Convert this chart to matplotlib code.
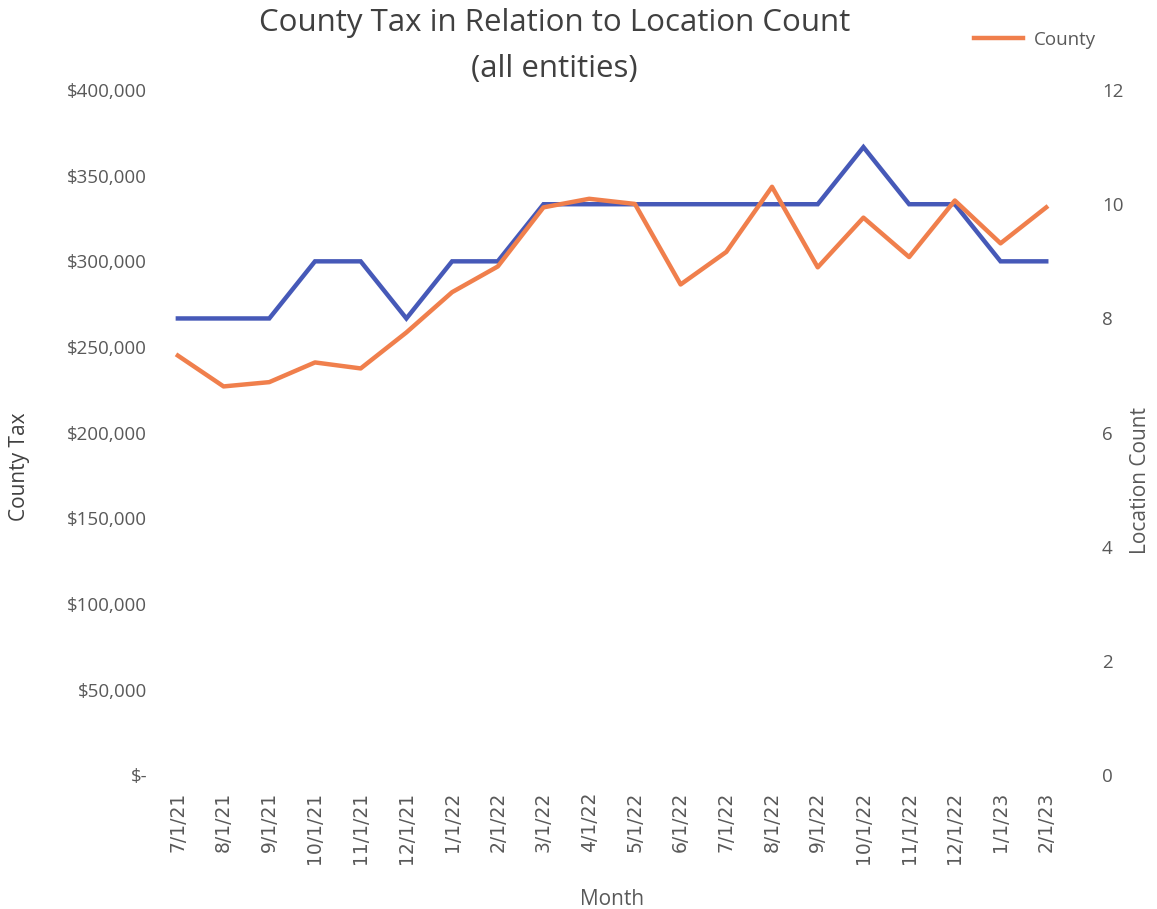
import matplotlib.pyplot as plt
from matplotlib.ticker import FuncFormatter

months = ["7/1/21", "8/1/21", "9/1/21", "10/1/21", "11/1/21", "12/1/21",
          "1/1/22", "2/1/22", "3/1/22", "4/1/22", "5/1/22", "6/1/22",
          "7/1/22", "8/1/22", "9/1/22", "10/1/22", "11/1/22", "12/1/22",
          "1/1/23", "2/1/23"]
county_tax = [245000, 227000, 229500, 241000, 237500, 258500,
              282000, 297000, 331500, 336500, 333500, 286500,
              305500, 343500, 296500, 325500, 302500, 335500,
              310500, 331500]
location_count = [8, 8, 8, 9, 9, 8, 9, 9, 10, 10, 10, 10,
                  10, 10, 10, 11, 10, 10, 9, 9]

plt.rcParams['font.family'] = ['Open Sans', 'DejaVu Sans']
gray = '#595959'

fig = plt.figure(figsize=(11.57, 9.09), dpi=100)
ax = fig.add_axes([0.132, 0.147, 0.794, 0.754])
ax2 = ax.twinx()

x = list(range(len(months)))
ax2.plot(x, location_count, color='#4659B8', lw=3.2, solid_joinstyle='miter')
ax.plot(x, county_tax, color='#F07F4C', lw=3.2, label='County')
ax.set_zorder(ax2.get_zorder() + 1)
ax.patch.set_visible(False)

ax.set_xlim(-0.55, len(months) - 0.45)
ax.set_ylim(0, 400000)
ax2.set_ylim(0, 12)
ax.set_yticks(range(0, 400001, 50000))
ax2.set_yticks(range(0, 13, 2))

def money(v, pos):
    return '$-' if v == 0 else '${:,.0f}'.format(v)

ax.yaxis.set_major_formatter(FuncFormatter(money))
ax.set_xticks(x)
ax.set_xticklabels(months, rotation=90, family='DejaVu Sans', fontsize=12, color=gray)

for a in (ax, ax2):
    for s in a.spines.values():
        s.set_visible(False)
    a.tick_params(length=0, labelsize=13.5, colors=gray)
ax.tick_params(axis='y', pad=4)
ax2.tick_params(axis='y', pad=22)
ax.tick_params(axis='x', pad=12)

ax.set_xlabel('Month', fontsize=15, color=gray, labelpad=18)
ax.set_ylabel('County Tax', fontsize=15, color='#404040')
ax2.set_ylabel('Location Count', fontsize=15, color=gray)
ax.yaxis.set_label_coords(-0.134, 0.45)
ax2.yaxis.set_label_coords(1.064, 0.43)

fig.text(0.479, 0.975, 'County Tax in Relation to Location Count', ha='center',
         va='center', fontsize=22.5, color='#404040')
fig.text(0.479, 0.924, '(all entities)', ha='center', va='center',
         fontsize=22.5, color='#404040')

fig.legend(loc='upper right', bbox_to_anchor=(0.962, 0.985), frameon=False,
           fontsize=13.5, labelcolor=gray, handlelength=2.6, handletextpad=0.6)

fig.savefig('out.png', dpi=100)
